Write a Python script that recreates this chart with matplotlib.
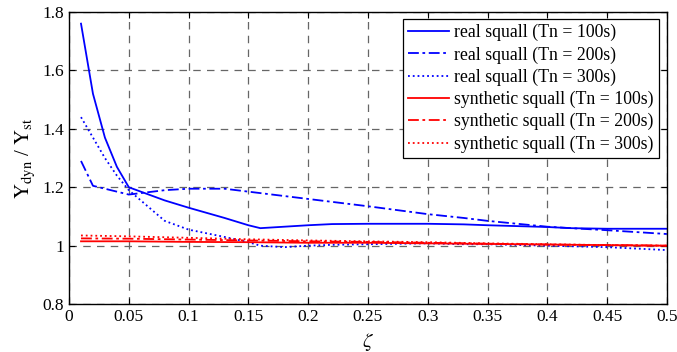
import numpy as np
import matplotlib
matplotlib.use('Agg')
from matplotlib import pyplot as plt

plt.rcParams['font.family'] = ['Liberation Serif', 'DejaVu Serif']
plt.rcParams['mathtext.fontset'] = 'stix'

# damping ratio
zeta_real = [0.01, 0.02, 0.03, 0.04, 0.05, 0.07, 0.08, 0.10, 0.13, 0.15, 0.16, 0.18,
             0.20, 0.22, 0.25, 0.30, 0.33, 0.35, 0.40, 0.42, 0.45, 0.50]
real_100 = [1.76, 1.52, 1.37, 1.27, 1.20, 1.17, 1.155, 1.13, 1.095, 1.07, 1.06, 1.065,
            1.07, 1.074, 1.075, 1.075, 1.073, 1.07, 1.064, 1.06, 1.058, 1.058]
real_200 = [1.29, 1.205, 1.195, 1.185, 1.175, 1.185, 1.19, 1.195, 1.195, 1.185, 1.18, 1.17,
            1.16, 1.15, 1.135, 1.108, 1.095, 1.085, 1.065, 1.06, 1.053, 1.04]
real_300 = [1.44, 1.37, 1.30, 1.24, 1.19, 1.12, 1.085, 1.055, 1.03, 1.012, 1.0, 0.995,
            1.0, 1.003, 1.005, 1.008, 1.005, 1.005, 1.0, 0.998, 0.995, 0.985]

zeta_syn = [0.01, 0.05, 0.10, 0.15, 0.20, 0.25, 0.30, 0.35, 0.40, 0.45, 0.50]
syn_100 = [1.015, 1.015, 1.013, 1.012, 1.01, 1.01, 1.008, 1.006, 1.004, 1.002, 1.0]
syn_200 = [1.025, 1.024, 1.021, 1.018, 1.015, 1.013, 1.01, 1.007, 1.004, 1.002, 1.0]
syn_300 = [1.035, 1.032, 1.027, 1.022, 1.018, 1.015, 1.012, 1.008, 1.005, 1.002, 1.0]

fig = plt.figure(figsize=(6.77, 3.52), dpi=100)
ax = fig.add_axes([0.102, 0.136, 0.883, 0.830])

ax.plot(zeta_real, real_100, color='blue', lw=1.3, ls='-', label='real squall (Tn = 100s)')
ax.plot(zeta_real, real_200, color='blue', lw=1.3, ls=(0, (6, 2, 1.5, 2)), label='real squall (Tn = 200s)')
ax.plot(zeta_real, real_300, color='blue', lw=1.3, ls=':', label='real squall (Tn = 300s)')
ax.plot(zeta_syn, syn_100, color='red', lw=1.3, ls='-', label='synthetic squall (Tn = 100s)')
ax.plot(zeta_syn, syn_200, color='red', lw=1.3, ls=(0, (6, 2, 1.5, 2)), label='synthetic squall (Tn = 200s)')
ax.plot(zeta_syn, syn_300, color='red', lw=1.3, ls=':', label='synthetic squall (Tn = 300s)')

ax.set_xlim(0, 0.5)
ax.set_ylim(0.8, 1.8)
ax.set_xticks(np.arange(0, 0.501, 0.05))
ax.set_xticklabels(['0', '0.05', '0.1', '0.15', '0.2', '0.25', '0.3', '0.35', '0.4', '0.45', '0.5'])
ax.set_yticks([0.8, 1.0, 1.2, 1.4, 1.6, 1.8])
ax.set_yticklabels(['0.8', '1', '1.2', '1.4', '1.6', '1.8'])
ax.tick_params(direction='in', top=True, right=True, labelsize=12.5, length=4)
ax.grid(True, color='0.4', ls=(0, (6, 5)), lw=0.9)
for s in ax.spines.values():
    s.set_linewidth(1.0)

ax.set_xlabel(r'$\zeta$', fontsize=15)
ax.set_ylabel(r'$\mathrm{Y_{dyn}}$ / $\mathrm{Y_{st}}$', fontsize=15)

leg = ax.legend(loc='upper right', bbox_to_anchor=(0.987, 0.977), borderaxespad=0, fontsize=12.8,
                fancybox=False, edgecolor='black', framealpha=1,
                handlelength=2.3, borderpad=0.3, labelspacing=0.28, handletextpad=0.3)
leg.get_frame().set_linewidth(0.9)

fig.savefig('out.png', dpi=100)
